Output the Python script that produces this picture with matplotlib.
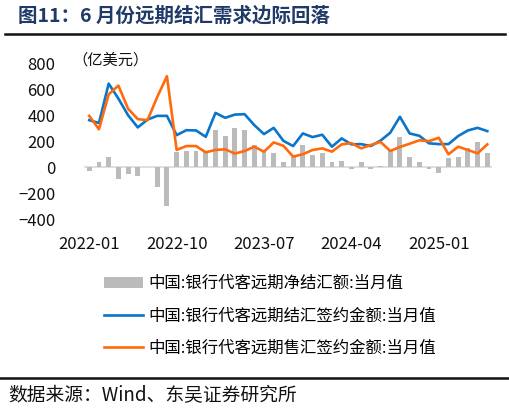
import numpy as np
import matplotlib
matplotlib.use('Agg')
from matplotlib import pyplot as plt
from matplotlib.lines import Line2D

plt.rcParams['font.family'] = ['Noto Sans CJK SC', 'DejaVu Sans']

# 2022-01 .. 2025-06, monthly, 亿美元
months = [f'{y}-{m:02d}' for y in range(2022, 2026) for m in range(1, 13)][:42]
net_settle = [-25, 43, 79, -92, -51, -64, 5, -153, -300, 120,
              125, 125, 115, 283, 242, 298, 285, 171, 125, 110,
              41, 82, 171, 94, 107, 41, 46, -15, 41, -15,
              10, 125, 235, 77, 38, -15, -46, 74, 82, 145,
              191, 107]
settle = [362, 340, 643, 528, 400, 306, 367, 395, 395, 247,
          285, 283, 234, 418, 380, 405, 408, 324, 255, 303,
          203, 163, 260, 232, 250, 158, 222, 176, 178, 163,
          205, 265, 388, 260, 242, 184, 178, 178, 240, 283,
          303, 278]
sale = [395, 292, 560, 628, 450, 370, 362, 540, 700, 133,
        163, 163, 115, 133, 138, 105, 125, 158, 120, 191,
        165, 82, 100, 133, 145, 120, 176, 186, 145, 171,
        195, 125, 156, 181, 207, 201, 227, 100, 158, 133,
        107, 176]
tick_idx = [0, 9, 18, 27, 36]

labels = ['中国:银行代客远期净结汇额:当月值',
          '中国:银行代客远期结汇签约金额:当月值',
          '中国:银行代客远期售汇签约金额:当月值']

fig = plt.figure(figsize=(5.10, 4.13), dpi=100)
ax = fig.add_axes([0.1655, 0.469, 0.7995, 0.378])

x = np.arange(len(months))
bars = ax.bar(x, net_settle, width=0.5, color='#BBBBBB', zorder=2)
l1, = ax.plot(x, settle, color='#0A75C9', lw=1.9, zorder=3)
l2, = ax.plot(x, sale, color='#FF6A0D', lw=1.9, zorder=4)
ax.axhline(0, color='#D9D9D9', lw=1.2, zorder=1)

ax.set_xlim(-0.5, len(months) - 0.5)
ax.set_ylim(-400, 800)
ax.set_yticks(range(-400, 801, 200))
ax.set_xticks(tick_idx)
ax.set_xticklabels([months[i] for i in tick_idx])
ax.tick_params(axis='both', length=0, labelsize=12, colors='#111111')
ax.tick_params(axis='x', pad=12)
ax.tick_params(axis='y', pad=21)
for s in ax.spines.values():
    s.set_visible(False)

fig.text(72 / 510, 1 - 60 / 413, '（亿美元）', fontsize=11, color='#111111',
         ha='left', va='center')

fig.legend([bars, l1, l2], labels, loc='upper left',
           bbox_to_anchor=(104 / 510, 1 - 275 / 413), frameon=False,
           fontsize=11.8, handlelength=2.4, handletextpad=0.3,
           labelspacing=0.95, borderaxespad=0, borderpad=0)

fig.text(18 / 510, 1 - 16 / 413, '图11：6 月份远期结汇需求边际回落', fontsize=14,
         fontweight='bold', color='#1F3A66', ha='left', va='center')
fig.add_artist(Line2D([5 / 510, 505 / 510], [1 - 33.5 / 413] * 2,
                      color='#111111', lw=1.8))
fig.add_artist(Line2D([0, 1], [1 - 378 / 413] * 2, color='#111111', lw=1.8))
fig.text(8 / 510, 1 - 396 / 413, '数据来源：Wind、东吴证券研究所', fontsize=13.5,
         color='#111111', ha='left', va='center')

fig.savefig('out.png', dpi=100)
